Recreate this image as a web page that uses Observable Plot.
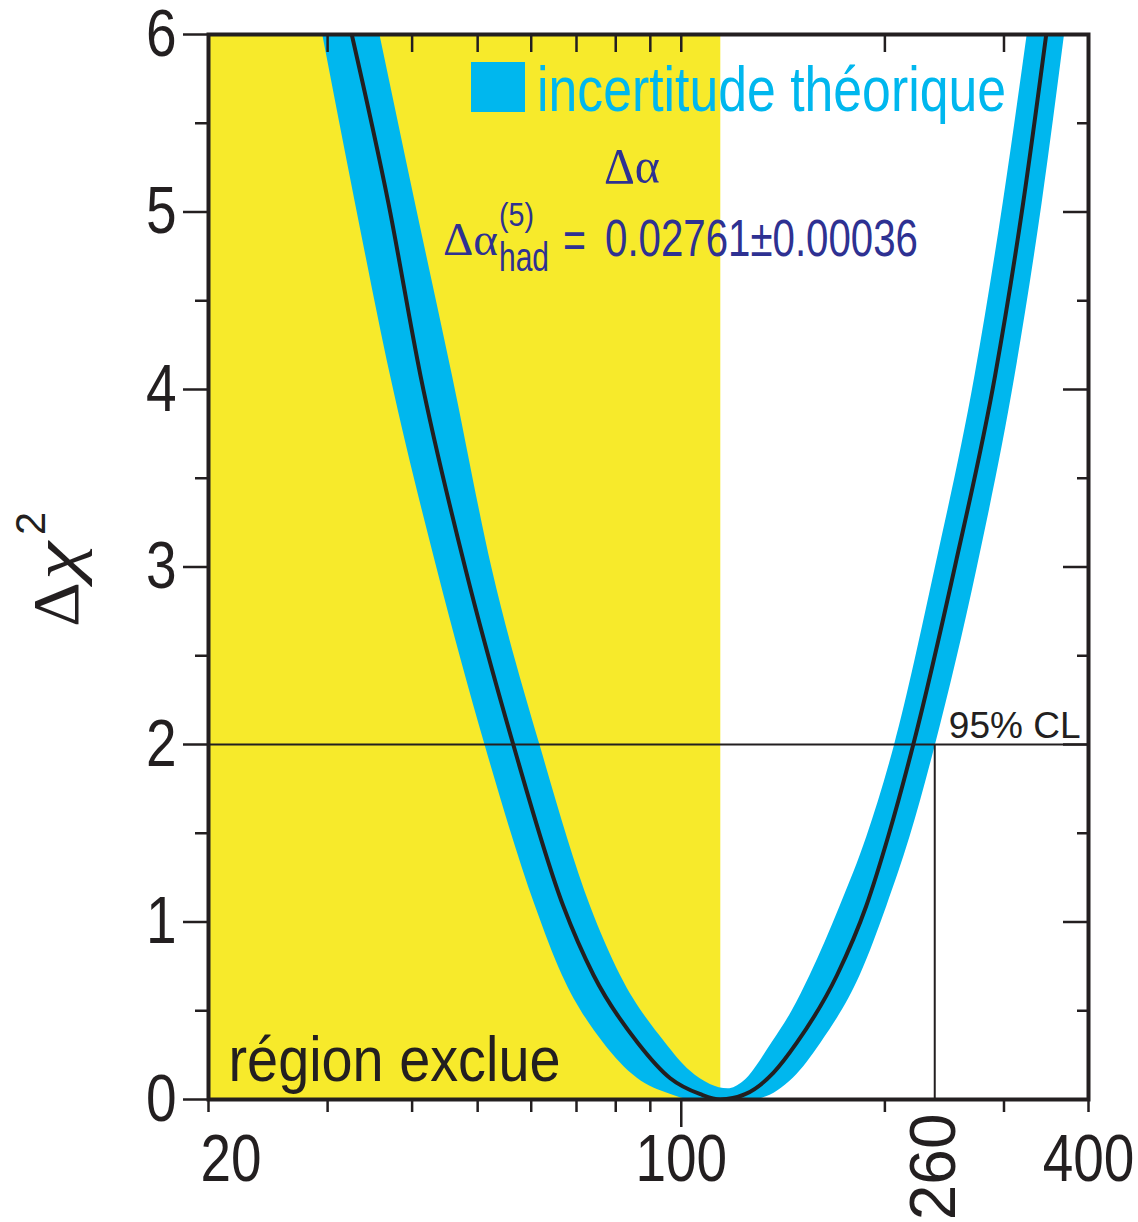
<!DOCTYPE html>
<html>
<head>
<meta charset="utf-8">
<script src="https://cdn.jsdelivr.net/npm/d3@7"></script>
<script src="https://cdn.jsdelivr.net/npm/@observablehq/plot@0.6"></script>
<style>
  body { margin: 0; background: #fff; }
  #chart { position: relative; width: 1138px; height: 1222px; }
</style>
</head>
<body>
<div id="chart"></div>
<script>
// ---------------- data ----------------
const xDomain = [20, 400];            // m_H axis (log)
const yDomain = [0, 6];               // Δχ² axis
const xLabelTicks = [100, 400];
const xFirstLabel = [20];
const xMinorTicks = [20, 30, 40, 50, 60, 70, 80, 90, 200, 300, 400];
const xMajorTicks = [100];
const xTopTicks = [30, 40, 50, 60, 70, 80, 90, 100, 200, 300];
const yMajorTicks = [0, 1, 2, 3, 4, 5, 6];
const yMinorTicks = [0.5, 1.5, 2.5, 3.5, 4.5, 5.5];

const lepLimit = 114.4;               // end of excluded (yellow) region
const clLevel = 2;                    // 95% CL Δχ² level
const clLimitPos = 237;               // where the limit line is drawn
const clLimitLabel = "260";
const clText = "95% CL";
const excludedText = "région exclue";
const legendText = "incertitude théorique";
const alphaTitle = "Δα";
const alphaValue = "0.02761±0.00036";

// central Δχ² curve
const centralMH   = [32.57, 36.9, 41.15, 47.96, 56.44, 66.92, 74.2, 86.2, 96.3, 106.7, 114.2, 124.3, 136.8, 148.2, 169.9, 187.7, 202.2, 220.3, 254.1, 291.1, 320.2, 346.4];
const centralChi2 = [6, 5.05, 4.08, 2.99, 2.0, 1.09, 0.70, 0.32, 0.12, 0.03, 0, 0.03, 0.15, 0.32, 0.70, 1.09, 1.48, 2.0, 3.01, 4.08, 5.05, 6];

// theory-uncertainty band: inner edge (upper envelope) and outer edge (lower envelope)
const bandInnerMH   = [35.84, 40.45, 45.87, 52.52, 61.89, 73.38, 81.27, 94.7, 103.1, 110.4, 117.3, 123.5, 136.2, 145.9, 155.1, 171.8, 188.1, 206.5, 237.3, 271.9, 299.2, 324.7];
const bandInnerChi2 = [6, 5.05, 4.08, 2.99, 1.99, 1.09, 0.70, 0.32, 0.16, 0.085, 0.06, 0.10, 0.32, 0.50, 0.70, 1.09, 1.48, 1.99, 2.99, 4.08, 5.05, 6];
const bandOuterMH   = [29.5, 32.98, 37.15, 43.55, 51.33, 60.85, 66.7, 76.7, 86.1, 96.3, 103.1, 127.3, 146.4, 161.0, 183.9, 201.4, 217.9, 237.3, 273.7, 311.6, 341.6, 368.7];
const bandOuterChi2 = [6, 5.05, 4.08, 2.99, 1.99, 1.09, 0.70, 0.32, 0.12, 0.03, 0, 0, 0.12, 0.32, 0.70, 1.09, 1.48, 1.99, 2.99, 4.08, 5.05, 6];

// ---------------- styling ----------------
const INK = "#231f20";
const YELLOW = "#f7ea2b";
const BLUE = "#00b7ee";
const NAVY = "#2e3192";
const NARROW = "'Liberation Sans Narrow', 'Arial Narrow', 'Liberation Sans', Arial, sans-serif";
const REG = "'Liberation Sans', Arial, sans-serif";
const SERIF = "'Liberation Serif', 'Times New Roman', serif";

function hasFont(name) {
  const c = document.createElement("canvas").getContext("2d");
  const s = "mmmmmmmmmmlli0123456789WWW";
  c.font = "72px monospace";
  const a = c.measureText(s).width;
  c.font = `72px '${name}', monospace`;
  const b = c.measureText(s).width;
  return Math.abs(a - b) > 0.5;
}
const narrowOK = hasFont("Liberation Sans Narrow") || hasFont("Arial Narrow");

const central = centralMH.map((m, i) => ({mH: m, chi2: centralChi2[i]}));
const band = bandInnerMH.map((m, i) => ({
  mHin: m, chi2in: bandInnerChi2[i],
  mHout: bandOuterMH[i], chi2out: bandOuterChi2[i]
}));

const W = 1138, H = 1222, mL = 208, mR = 50, mT = 34, mB = 123;
const frameW = W - mL - mR, frameH = H - mT - mB;

const chart = Plot.plot({
  width: W, height: H,
  marginLeft: mL, marginRight: mR, marginTop: mT, marginBottom: mB,
  x: {type: "log", domain: xDomain},
  y: {domain: yDomain},
  style: {background: "white", color: INK, fontFamily: NARROW, overflow: "visible"},
  marks: [
    Plot.rect([{x1: xDomain[0], x2: lepLimit, y1: yDomain[0], y2: yDomain[1]}], {x1: "x1", x2: "x2", y1: "y1", y2: "y2", fill: YELLOW}),
    Plot.area(band, {x1: "mHin", y1: "chi2in", x2: "mHout", y2: "chi2out", fill: BLUE, curve: "monotone-x", clip: true}),
    Plot.line(central, {x: "mH", y: "chi2", stroke: INK, strokeWidth: 4, curve: "monotone-x", clip: true}),
    Plot.ruleY([clLevel], {stroke: INK, strokeWidth: 2}),
    Plot.ruleX([clLimitPos], {x: d => d, y1: yDomain[0], y2: clLevel, stroke: INK, strokeWidth: 2}),
    Plot.text([excludedText], {text: d => d, frameAnchor: "bottom-left", textAnchor: "start", lineAnchor: "bottom", dx: 20, dy: -19, fontSize: 63, fontFamily: NARROW, fill: INK}),
    Plot.text([{y: clLevel, t: clText}], {y: "y", text: "t", frameAnchor: "right", textAnchor: "end", lineAnchor: "bottom", dx: -8, dy: -7, fontSize: 37, fontFamily: REG, fill: INK}),
    // left axis
    Plot.axisY(yMajorTicks, {anchor: "left", tickSize: 25, tickPadding: 7, fontSize: 67, fontFamily: NARROW, strokeWidth: 2.5, label: null, tickFormat: d => String(d)}),
    Plot.axisY(yMinorTicks, {anchor: "left", tickSize: 13, strokeWidth: 2.5, label: null, tickFormat: () => ""}),
    // right inward ticks
    Plot.ruleY(yMajorTicks, {y: d => d, stroke: INK, strokeWidth: 2.5, insetLeft: frameW - 25}),
    Plot.ruleY(yMinorTicks, {y: d => d, stroke: INK, strokeWidth: 2.5, insetLeft: frameW - 11}),
    // top inward ticks
    Plot.ruleX(xTopTicks, {x: d => d, stroke: INK, strokeWidth: 2.5, insetBottom: frameH - 18}),
    // bottom axis
    Plot.axisX(xMinorTicks, {anchor: "bottom", tickSize: 13, strokeWidth: 2.5, label: null, tickFormat: () => ""}),
    Plot.axisX(xMajorTicks, {anchor: "bottom", tickSize: 28, strokeWidth: 2.5, label: null, tickFormat: () => ""}),
    Plot.axisX(xLabelTicks, {anchor: "bottom", tickSize: 0, tickPadding: 34, fontSize: 67, fontFamily: NARROW, label: null, tickFormat: d => String(d)}),
    Plot.axisX(xFirstLabel, {anchor: "bottom", tickSize: 0, tickPadding: 34, fontSize: 67, fontFamily: NARROW, label: null, textAnchor: "start", dx: -8, tickFormat: d => String(d)}),
    Plot.text([clLimitPos], {x: d => d, text: () => clLimitLabel, frameAnchor: "bottom", rotate: -90, textAnchor: "end", lineAnchor: "middle", dy: 14, fontSize: 64, fontFamily: REG, fill: INK}),
    Plot.frame({stroke: INK, strokeWidth: 4})
  ]
});

const host = document.getElementById("chart");
host.appendChild(chart);
const svg = d3.select(chart);

// ---------------- annotations (legend, Δα block, y label) ----------------
const g = svg.append("g").attr("class", "annotations").attr("text-anchor", "start");
function addText(parent, str, x, y, size, family, fill, len, opts = {}) {
  const t = parent.append("text")
    .attr("x", x).attr("y", y)
    .attr("text-anchor", "start")
    .attr("font-size", size).attr("font-family", family)
    .attr("fill", fill).text(str);
  if (opts.italic) t.attr("font-style", "italic");
  if (len) t.attr("data-len", len);
  return t;
}
g.append("rect").attr("x", 471).attr("y", 62).attr("width", 54).attr("height", 50).attr("fill", BLUE);
addText(g, legendText, 537, 111, 63, NARROW, BLUE, 469);

addText(g, alphaTitle, 604, 183, 51, SERIF, NAVY, 56);
addText(g, alphaTitle, 443, 255, 46, SERIF, NAVY, 55);
addText(g, "(5)", 499, 226, 34, NARROW, NAVY, 35);
addText(g, "had", 499, 271, 40, NARROW, NAVY, 50);
addText(g, "=", 563, 258, 52, NARROW, NAVY, 23);
addText(g, alphaValue, 605, 256, 52, NARROW, NAVY, 313);

const yl = g.append("g").attr("transform", "translate(78,627) rotate(-90)");
addText(yl, "Δ", 0, 0, 66, SERIF, INK, 45);
addText(yl, "χ", 47, 0, 66, SERIF, INK, 38, {italic: true});
addText(yl, "2", 92, -33, 42, REG, INK, 23);

// width of the "région exclue" label as in the reference
chart.querySelectorAll("text").forEach(el => {
  if (el.textContent === excludedText) el.setAttribute("data-len", 332);
});

// exact widths for annotation texts
chart.querySelectorAll("text[data-len]").forEach(el => {
  el.setAttribute("textLength", el.getAttribute("data-len"));
  el.setAttribute("lengthAdjust", "spacingAndGlyphs");
});
// condensed look if no narrow font is installed
if (!narrowOK) {
  chart.querySelectorAll("text").forEach(el => {
    if (el.hasAttribute("data-len")) return;
    const ff = getComputedStyle(el).fontFamily || "";
    if (!ff.includes("Narrow")) return;
    const L = el.getComputedTextLength();
    if (L > 0) {
      el.setAttribute("textLength", (L * 0.82).toFixed(1));
      el.setAttribute("lengthAdjust", "spacingAndGlyphs");
    }
  });
}
</script>
</body>
</html>
